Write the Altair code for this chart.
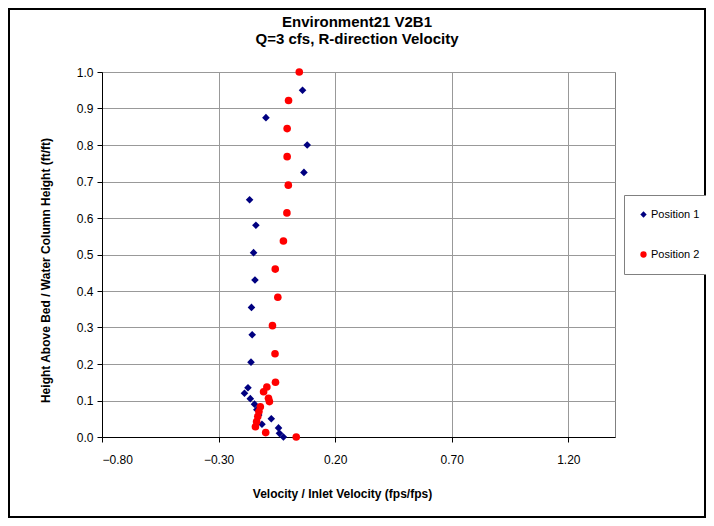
import altair as alt
import pandas as pd

series_names = ["Position 1", "Position 2"]
title_lines = ["Environment21 V2B1", "Q=3 cfs, R-direction Velocity"]

heights1 = [0.95, 0.875, 0.80, 0.725, 0.65, 0.58, 0.505, 0.43, 0.355, 0.28, 0.205,
            0.135, 0.12, 0.105, 0.09, 0.075, 0.06, 0.05, 0.035, 0.025, 0.01, 0.0]
vel1 = [0.060, -0.097, 0.080, 0.066, -0.167, -0.140, -0.150, -0.144, -0.159, -0.156, -0.161,
        -0.174, -0.189, -0.164, -0.146, -0.136, -0.128, -0.074, -0.114, -0.043, -0.039, -0.022]

heights2 = [1.0, 0.922, 0.845, 0.768, 0.69, 0.614, 0.537, 0.46, 0.383, 0.305, 0.228,
            0.15, 0.137, 0.124, 0.106, 0.097, 0.083, 0.07, 0.056, 0.042, 0.028, 0.012, 0.0]
vel2 = [0.046, 0.000, -0.006, -0.006, -0.001, -0.007, -0.022, -0.057, -0.046, -0.069, -0.058,
        -0.056, -0.093, -0.107, -0.086, -0.082, -0.121, -0.127, -0.132, -0.137, -0.142, -0.098, 0.033]

x_ticks = [-0.8, -0.3, 0.2, 0.7, 1.2]
y_ticks = [0.0, 0.1, 0.2, 0.3, 0.4, 0.5, 0.6, 0.7, 0.8, 0.9, 1.0]

df = pd.DataFrame({
    "v": vel1 + vel2,
    "h": heights1 + heights2,
    "series": [series_names[0]] * len(vel1) + [series_names[1]] * len(vel2),
})

FONT = "Liberation Sans"
W, H = 513, 365

points = alt.Chart(df).mark_point(filled=True, opacity=1, size=58).encode(
    x=alt.X("v:Q",
            scale=alt.Scale(domain=[-0.8, 1.4], nice=False, zero=False),
            axis=alt.Axis(values=x_ticks, format=".2f", grid=True,
                          title="Velocity / Inlet Velocity (fps/fps)",
                          titleX=240, titleY=56, titleAlign="center", titleBaseline="middle",
                          labelPadding=12)),
    y=alt.Y("h:Q",
            scale=alt.Scale(domain=[0, 1], nice=False, zero=False),
            axis=alt.Axis(values=y_ticks, format=".1f", grid=True,
                          title="Height Above Bed / Water Column Height (ft/ft)",
                          titleX=-57, titleY=198, titleAngle=270, titleAlign="center",
                          titleBaseline="middle", labelPadding=4)),
    color=alt.Color("series:N",
                    scale=alt.Scale(domain=series_names, range=["#000080", "#FF0000"]),
                    legend=alt.Legend(title=None, orient="none", legendX=522, legendY=123,
                                      padding=14, rowPadding=28, labelFontSize=11,
                                      labelFont=FONT, labelColor="black", symbolSize=40,
                                      labelOffset=2,
                                      strokeColor="#808080", fillColor="white")),
    shape=alt.Shape("series:N",
                    scale=alt.Scale(domain=series_names, range=["diamond", "circle"]),
                    legend=None),
)

frame = alt.Chart(df).mark_rect(fill=None, stroke="black", strokeWidth=2, clip=False).encode(
    x=alt.value(-93), x2=alt.value(W + 90), y=alt.value(-63), y2=alt.value(H + 80)
)

title1 = alt.Chart(pd.DataFrame({"t": [title_lines[0]]})).mark_text(
    font=FONT, fontSize=15, fontWeight="bold", color="black", baseline="alphabetic",
    align="center", clip=False
).encode(text="t:N", x=alt.value(255), y=alt.value(-45))

title2 = alt.Chart(pd.DataFrame({"t": [title_lines[1]]})).mark_text(
    font=FONT, fontSize=15, fontWeight="bold", color="black", baseline="alphabetic",
    align="center", clip=False
).encode(text="t:N", x=alt.value(255), y=alt.value(-28))

chart = alt.layer(points, frame, title1, title2).properties(
    width=W, height=H,
    padding={"left": 94, "top": 64, "right": 91, "bottom": 81},
    autosize=alt.AutoSizeParams(type="none"),
).configure_view(
    stroke="#808080", strokeWidth=1
).configure_axis(
    labelFont=FONT, labelFontSize=12, labelColor="black",
    titleFont=FONT, titleFontSize=12, titleFontWeight="bold", titleColor="black",
    domainColor="black", tickColor="black", tickSize=5,
    gridColor="#999999", gridWidth=1,
)

chart.save("out.html", embed_options={"renderer": "svg", "actions": False})
